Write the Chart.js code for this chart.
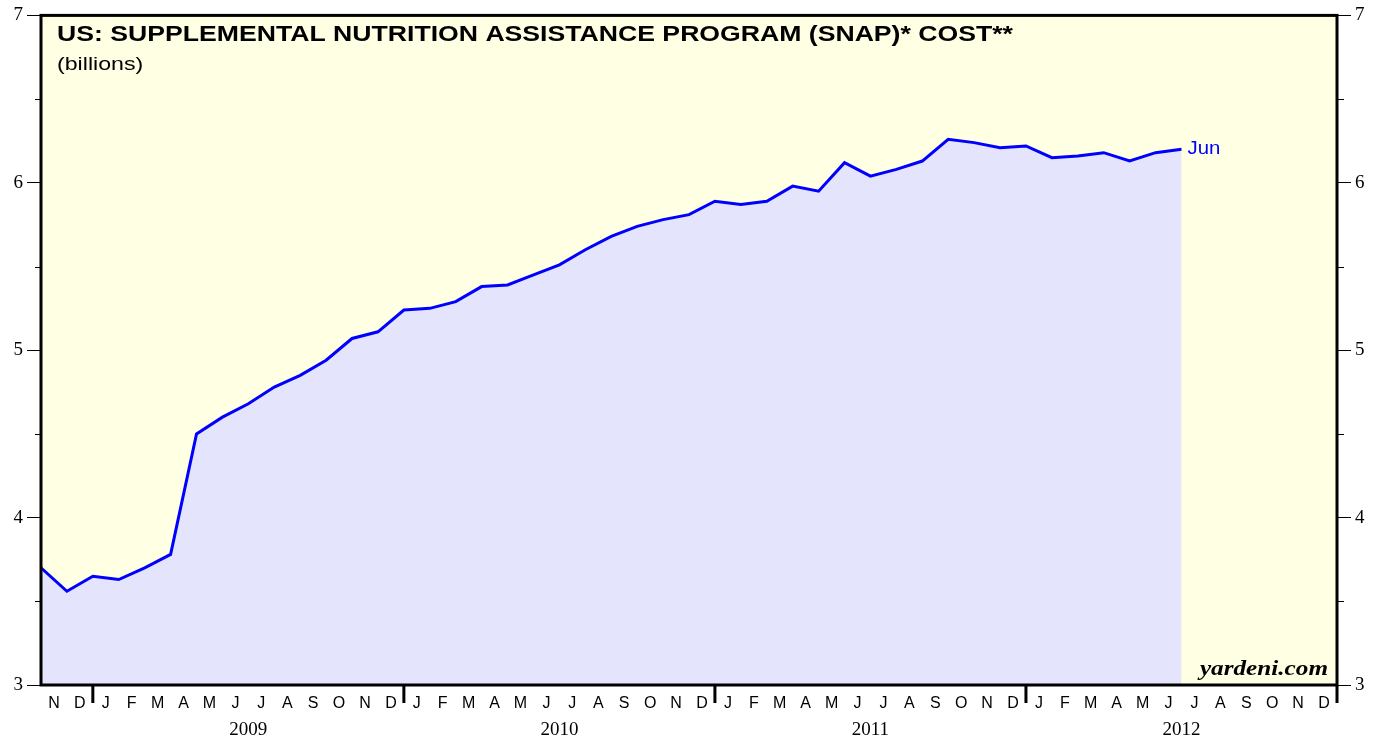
<!DOCTYPE html>
<html>
<head>
<meta charset="utf-8">
<script src="https://cdn.jsdelivr.net/npm/chart.js@4.4.1/dist/chart.umd.min.js"></script>
<style>
  html, body { margin: 0; background: #ffffff; }
  #wrap { width: 1384px; height: 742px; position: relative; }
</style>
</head>
<body>
<div id="wrap"><canvas id="chart"></canvas></div>
<script>
// monthly SNAP cost, billions, Oct 2008 .. Jun 2012 (plotted at month end)
const snapCost = [
    3.70, 3.56, 3.65, 3.63, 3.70, 3.78, 4.50, 4.60, 4.68, 4.78, 4.85, 4.94,
    5.07, 5.11, 5.24, 5.25, 5.29, 5.38, 5.39, 5.45, 5.51, 5.60, 5.68, 5.74,
    5.78, 5.81, 5.89, 5.87, 5.89, 5.98, 5.95, 6.12, 6.04, 6.08, 6.13, 6.26,
    6.24, 6.21, 6.22, 6.15, 6.16, 6.18, 6.13, 6.18, 6.20
];

// month letters along the x axis, Nov 2008 .. Dec 2012
const monthTicks = [
    "N", "D",
    "J", "F", "M", "A", "M", "J", "J", "A", "S", "O", "N", "D",
    "J", "F", "M", "A", "M", "J", "J", "A", "S", "O", "N", "D",
    "J", "F", "M", "A", "M", "J", "J", "A", "S", "O", "N", "D",
    "J", "F", "M", "A", "M", "J", "J", "A", "S", "O", "N", "D"
];
const yearLabels = ["2009", "2010", "2011", "2012"];
const yTicks = [3, 4, 5, 6, 7];
const yMinorTicks = [3.5, 4.5, 5.5, 6.5];
const lastLabel = "Jun";

const firstJan = 2; // slot of the first January in monthTicks
const yearStarts = yearLabels.map((_, k) => firstJan + 12 * k).concat([firstJan + 12 * yearLabels.length]);

const canvas = document.getElementById("chart");

// the source picture's lettering is a little wider than the fonts we have
function wideText(ctx, text, x, y, stretch, align) {
    const w = ctx.measureText(text).width * stretch;
    const left = align === "right" ? x - w : x;
    ctx.save();
    ctx.textAlign = "left";
    ctx.translate(left, y);
    ctx.scale(stretch, 1);
    ctx.fillText(text, 0, 0);
    ctx.restore();
}

const framePlugin = {
    id: "frame",
    beforeDraw(chart) {
        const { ctx, chartArea: a } = chart;
        ctx.save();
        ctx.fillStyle = "#ffffe4";
        ctx.fillRect(a.left, a.top, a.right - a.left, a.bottom - a.top);
        ctx.restore();
    },
    afterDatasetsDraw(chart) {
        const { ctx, chartArea: a, scales } = chart;
        ctx.save();

        // plot frame
        ctx.strokeStyle = "#000";
        ctx.lineWidth = 3;
        ctx.strokeRect(a.left, a.top, a.right - a.left, a.bottom - a.top);

        // minor y ticks
        ctx.lineWidth = 1;
        ctx.beginPath();
        yMinorTicks.forEach((v) => {
            const y = Math.round(scales.y.getPixelForValue(v)) + 0.5;
            ctx.moveTo(a.left - 6, y);
            ctx.lineTo(a.left, y);
            ctx.moveTo(a.right, y);
            ctx.lineTo(a.right + 7, y);
        });
        ctx.stroke();

        // year boundary ticks
        ctx.lineWidth = 3;
        ctx.beginPath();
        yearStarts.forEach((v) => {
            const x = scales.x.getPixelForValue(v);
            ctx.moveTo(x, a.bottom);
            ctx.lineTo(x, a.bottom + 18);
        });
        ctx.stroke();

        // titles
        ctx.fillStyle = "#000";
        ctx.textBaseline = "alphabetic";
        ctx.font = 'bold 22px "Liberation Sans", Arial, sans-serif';
        wideText(ctx, "US: SUPPLEMENTAL NUTRITION ASSISTANCE PROGRAM (SNAP)* COST**", a.left + 16, 41, 1.21, "left");
        ctx.font = '19px "Liberation Sans", Arial, sans-serif';
        wideText(ctx, "(billions)", a.left + 16, 70, 1.22, "left");

        ctx.font = 'italic bold 21px "Liberation Serif", "Times New Roman", serif';
        wideText(ctx, "yardeni.com", a.right - 9, 675, 1.2, "right");

        // end label
        const last = snapCost.length - 1;
        ctx.textBaseline = "middle";
        ctx.fillStyle = "#0000ff";
        ctx.font = '18px "Liberation Sans", Arial, sans-serif';
        wideText(ctx, lastLabel, scales.x.getPixelForValue(last) + 6, scales.y.getPixelForValue(snapCost[last]), 1.13, "left");

        ctx.restore();
    }
};

const yAxis = (position, width) => ({
    type: "linear",
    position: position,
    min: 3,
    max: 7,
    afterBuildTicks: (axis) => { axis.ticks = yTicks.map((v) => ({ value: v })); },
    afterFit: (axis) => { axis.width = width; },
    border: { display: false },
    grid: { drawOnChartArea: false, color: "#000", tickLength: 14, tickWidth: 1 },
    ticks: {
        color: "#000",
        padding: 4,
        font: { family: '"Liberation Serif", "Times New Roman", serif', size: 19 },
        callback: (v) => String(v)
    }
});

new Chart(canvas, {
    type: "line",
    data: {
        datasets: [
            {
                data: snapCost.map((v, i) => ({ x: i, y: v })),
                borderColor: "#0000ff",
                borderWidth: 3,
                backgroundColor: "#e4e4fc",
                fill: "start",
                pointRadius: 0,
                tension: 0
            }
        ]
    },
    options: {
        responsive: true,
        maintainAspectRatio: false,
        animation: false,
        layout: { padding: { top: 13, left: 0, right: 0, bottom: 0 } },
        plugins: {
            legend: { display: false },
            tooltip: { enabled: false }
        },
        scales: {
            x: {
                type: "linear",
                position: "bottom",
                weight: 0,
                min: 0,
                max: monthTicks.length,
                afterBuildTicks: (axis) => { axis.ticks = monthTicks.map((_, i) => ({ value: i + 0.5 })); },
                afterFit: (axis) => { axis.height = 26; },
                border: { display: false },
                grid: { display: false, drawTicks: false },
                ticks: {
                    color: "#000",
                    padding: 9,
                    autoSkip: false,
                    maxRotation: 0,
                    font: { family: '"Liberation Sans Narrow", "Arial Narrow", "Liberation Sans", sans-serif', size: 16 },
                    callback: (v, i) => monthTicks[i]
                }
            },
            x2: {
                type: "linear",
                position: "bottom",
                weight: 1,
                min: 0,
                max: monthTicks.length,
                afterBuildTicks: (axis) => { axis.ticks = yearLabels.map((_, k) => ({ value: firstJan + 12 * k + 6 })); },
                afterFit: (axis) => { axis.height = 31; },
                border: { display: false },
                grid: { display: false, drawTicks: false },
                ticks: {
                    color: "#000",
                    padding: 8,
                    autoSkip: false,
                    maxRotation: 0,
                    font: { family: '"Liberation Serif", "Times New Roman", serif', size: 19 },
                    callback: (v, i) => yearLabels[i]
                }
            },
            y: yAxis("left", 41),
            y2: yAxis("right", 47)
        }
    },
    plugins: [framePlugin]
});
</script>
</body>
</html>
